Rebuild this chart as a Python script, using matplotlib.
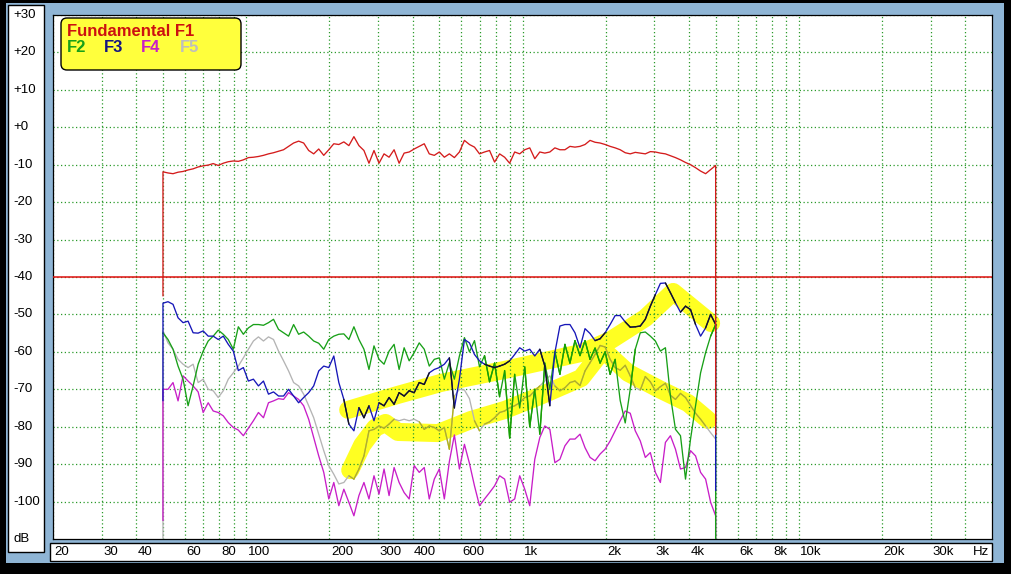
import numpy as np
import matplotlib
matplotlib.use("Agg")
import matplotlib.pyplot as plt
from matplotlib.patches import Rectangle, FancyBboxPatch
from matplotlib.collections import LineCollection
from matplotlib import transforms as mtrans
from matplotlib.ticker import NullLocator
from matplotlib.colors import to_rgb

# ---------------- data ----------------
freqs = np.geomspace(50, 5000, 111)

f1_db = [-11.9, -12.2, -12.4, -12.0, -11.8, -11.4, -11.1, -10.6, -10.3, -10.1,
         -9.7, -10.2, -9.6, -9.2, -9.0, -9.1, -8.7, -8.1, -8.0, -7.8,
         -7.5, -7.1, -6.8, -6.4, -6.0, -5.1, -4.2, -3.7, -4.2, -6.2,
         -7.1, -5.8, -7.5, -6.0, -4.4, -4.6, -3.9, -4.9, -2.5, -4.9,
         -6.2, -9.6, -6.2, -9.6, -7.1, -8.0, -6.0, -9.6, -6.9, -6.6,
         -5.8, -5.1, -4.4, -7.1, -7.5, -6.6, -8.0, -7.1, -8.1, -6.6,
         -3.5, -4.6, -5.3, -7.1, -6.6, -6.2, -9.3, -7.1, -8.0, -9.6,
         -6.6, -7.1, -6.0, -5.5, -8.4, -6.6, -6.9, -6.6, -5.5, -6.0,
         -6.0, -5.1, -5.3, -5.1, -4.6, -3.5, -4.0, -4.2, -4.6, -5.1,
         -5.5, -6.0, -6.8, -7.1, -6.7, -6.9, -7.1, -6.5, -6.6, -6.9,
         -7.1, -7.6, -8.1, -8.7, -9.4, -10.0, -10.8, -11.7, -12.4, -11.3,
         -10.2]

f2_db = [-54.9, -56.7, -59.3, -63.8, -67.3, -74.4, -69.1, -63.3, -59.8, -57.1,
         -55.8, -54.2, -55.3, -56.7, -59.3, -53.3, -55.3, -53.6, -52.7, -52.7,
         -52.9, -52.2, -51.3, -54.0, -54.9, -55.8, -52.7, -55.3, -54.7, -55.8,
         -57.1, -57.7, -59.3, -56.7, -55.8, -55.3, -55.2, -56.7, -53.3, -56.7,
         -59.3, -64.7, -58.4, -62.0, -63.3, -59.8, -58.0, -64.7, -58.9, -62.4,
         -60.2, -57.6, -59.3, -63.8, -62.0, -61.6, -67.3, -62.9, -67.3, -61.1,
         -56.2, -60.0, -57.0, -64.0, -61.0, -68.0, -63.0, -72.0, -65.0, -83.0,
         -66.0, -75.0, -64.0, -80.0, -70.0, -82.0, -63.0, -70.0, -60.0, -66.0,
         -58.0, -63.0, -57.0, -61.0, -57.0, -62.0, -59.0, -63.0, -60.0, -66.0,
         -62.0, -73.0, -79.0, -70.0, -59.3, -54.9, -54.7, -55.8, -57.1, -59.8,
         -58.9, -71.8, -80.7, -82.4, -94.0, -83.3, -74.4, -65.6, -60.2, -55.8,
         -52.7]

f3_db = [-47.0, -46.6, -47.3, -50.9, -52.2, -51.8, -54.9, -55.0, -54.4, -55.8,
         -55.8, -56.7, -55.8, -58.0, -59.8, -65.0, -64.2, -67.8, -67.3, -69.1,
         -67.8, -71.3, -70.7, -71.8, -71.8, -70.0, -71.8, -73.6, -72.2, -70.9,
         -69.1, -65.1, -63.8, -64.2, -61.1, -68.2, -72.7, -79.3, -81.1, -74.9,
         -77.6, -74.4, -78.4, -73.6, -74.4, -72.2, -74.0, -70.9, -71.8, -70.4,
         -70.9, -68.2, -68.7, -65.6, -64.7, -64.2, -63.3, -61.6, -75.0, -67.3,
         -56.7, -57.6, -60.7, -62.4, -63.3, -63.8, -64.2, -63.8, -63.3, -62.4,
         -60.7, -58.9, -59.8, -59.3, -61.1, -59.3, -63.8, -74.4, -60.2, -53.1,
         -52.7, -52.7, -54.9, -58.9, -53.8, -55.1, -57.0, -56.5, -54.9, -52.7,
         -50.3, -50.3, -52.0, -53.4, -53.3, -53.1, -51.3, -47.8, -44.7, -41.7,
         -41.6, -44.2, -46.9, -49.4, -47.8, -48.7, -52.7, -55.8, -53.6, -50.0,
         -52.7]

f4_db = [-70.0, -70.0, -68.2, -73.1, -66.4, -67.8, -69.1, -70.7, -76.2, -73.6,
         -75.8, -76.2, -77.1, -78.9, -80.2, -80.9, -82.4, -80.4, -78.4, -76.2,
         -77.6, -73.6, -73.1, -72.5, -72.7, -70.9, -71.8, -72.7, -74.4, -78.0,
         -82.9, -87.8, -92.2, -99.3, -94.9, -101.1, -96.7, -100.2, -103.8, -98.4,
         -94.9, -99.3, -93.1, -98.0, -91.3, -98.4, -90.9, -94.9, -97.6, -99.3,
         -90.4, -92.2, -90.9, -99.3, -94.0, -91.3, -99.3, -89.3, -82.2, -91.3,
         -84.7, -89.8, -95.8, -101.1, -99.3, -97.6, -95.8, -93.1, -94.0, -100.2,
         -99.3, -93.1, -96.7, -101.1, -88.7, -82.9, -79.8, -80.7, -89.6, -88.7,
         -85.1, -83.3, -83.3, -82.0, -85.6, -88.2, -89.1, -87.3, -86.0, -83.8,
         -81.1, -78.4, -75.8, -76.4, -81.1, -83.8, -88.2, -86.9, -92.2, -94.9,
         -84.2, -82.4, -86.0, -91.3, -90.9, -86.4, -87.8, -92.2, -94.0, -100.2,
         -103.8]

f5_db = [-54.4, -57.6, -59.3, -62.0, -63.3, -64.2, -63.3, -68.2, -67.3, -70.0,
         -70.4, -72.2, -70.4, -67.3, -65.6, -63.8, -61.6, -59.3, -57.1, -56.0,
         -57.1, -56.0, -56.7, -59.8, -62.4, -65.1, -68.2, -69.1, -71.3, -74.4,
         -77.6, -82.0, -86.4, -90.4, -92.7, -95.3, -94.9, -93.1, -94.0, -91.3,
         -87.8, -81.1, -80.7, -79.8, -80.4, -79.3, -78.0, -78.4, -78.0, -78.4,
         -78.0, -78.7, -80.7, -79.8, -80.2, -81.1, -80.2, -86.0, -71.8, -70.0,
         -70.2, -72.5, -78.4, -81.1, -79.3, -78.7, -77.6, -76.2, -75.8, -74.9,
         -74.4, -73.6, -72.2, -71.8, -70.4, -69.1, -67.8, -66.4, -69.1, -70.4,
         -69.6, -68.2, -67.8, -69.0, -65.1, -62.9, -60.7, -58.3, -58.7, -62.0,
         -64.2, -64.9, -63.6, -66.4, -69.6, -70.2, -66.6, -68.0, -70.4, -69.3,
         -68.4, -71.6, -72.7, -71.1, -72.2, -74.3, -76.4, -78.0, -79.8, -81.6,
         -83.3]

series_names = ["F1", "F2", "F3", "F4", "F5"]
start_db = [-45, -55, -73, -105, -110]
end_db = [-82, -110, -97, -110, -110]

threshold_db = -40

# hand-drawn highlight strokes
band_upper_f = [234, 354, 507, 865, 1630, 2092, 2778, 3508, 4814]
band_upper_db = [-75.5, -71.5, -68.3, -64.8, -60.3, -56.8, -51.0, -44.0, -52.3]
band_lower_f = [238, 263, 293, 319, 354, 495, 651, 865, 1138, 1630, 1958, 2410, 3173, 3975, 4695]
band_lower_db = [-91.6, -84.9, -80.3, -79.0, -81.4, -81.7, -78.2, -75.5, -72.0, -67.0, -59.5,
                 -65.6, -70.2, -73.7, -78.2]

grid_freqs = [20, 30, 40, 50, 60, 70, 80, 90,
              100, 200, 300, 400, 500, 600, 700, 800, 900,
              1000, 2000, 3000, 4000, 5000, 6000, 7000, 8000, 9000,
              10000, 20000, 30000, 40000]
x_label_freqs = [20, 30, 40, 60, 80, 100, 200, 300, 400, 600,
                 1000, 2000, 3000, 4000, 6000, 8000, 10000, 20000, 30000]
x_labels = ["20", "30", "40", "60", "80", "100", "200", "300", "400", "600",
            "1k", "2k", "3k", "4k", "6k", "8k", "10k", "20k", "30k"]
y_label_vals = [30, 20, 10, 0, -10, -20, -30, -40, -50, -60, -70, -80, -90, -100]
y_labels = ["+30", "+20", "+10", "+0", "-10", "-20", "-30", "-40", "-50",
            "-60", "-70", "-80", "-90", "-100"]

# ---------------- style ----------------
W, H = 1012, 574
RED = "#d41c1c"
GREEN = "#18a018"
BLUE = "#1616b8"
MAG = "#c81ec8"
GRAY = "#b4b4b4"
GRIDC = "#2a9a2a"
BG = "#8fb5d5"
HILITE = "#ffff22"
FONT = "Liberation Sans"

fig = plt.figure(figsize=(W / 100, H / 100), dpi=100)
fig.patch.set_facecolor("black")


def fr(x0, y0, x1, y1):
    return (x0 / W, 1 - y1 / H, (x1 - x0) / W, (y1 - y0) / H)


def add_rect(x0, y0, x1, y1, fc, ec="none", lw=0):
    l, b, w, h = fr(x0, y0, x1, y1)
    fig.add_artist(Rectangle((l, b), w, h, transform=fig.transFigure,
                             facecolor=fc, edgecolor=ec, linewidth=lw, zorder=0))


add_rect(6, 3, 1004, 563, BG)
add_rect(8, 5, 44, 552, "white", "black", 1)
add_rect(50, 543, 992, 561, "white", "black", 1)

ax = fig.add_axes(fr(53, 15, 992, 539))
ax.set_xscale("log")
ax.set_xlim(20, 50000)
ax.set_ylim(-110, 30)
ax.set_xticks(grid_freqs)
ax.xaxis.set_minor_locator(NullLocator())
ax.set_yticks(list(range(-100, 31, 10)))
ax.tick_params(length=0, labelbottom=False, labelleft=False)
ax.set_axisbelow("line")
ax.grid(True, color=GRIDC, linestyle=(0, (1, 2)), linewidth=0.9)
for s in ax.spines.values():
    s.set_color("black")
    s.set_linewidth(0.9)

# highlight strokes (under the curves)
for bf, bd in [(band_upper_f, band_upper_db), (band_lower_f, band_lower_db)]:
    ax.plot(bf, bd, color=HILITE, lw=13, solid_capstyle="round",
            solid_joinstyle="round", zorder=1)

ax.axhline(threshold_db, color="#e01010", lw=1.1, zorder=2.6, snap=True)

series_db = [f1_db, f2_db, f3_db, f4_db, f5_db]
colors = [RED, GREEN, BLUE, MAG, GRAY]
zords = [3.4, 3.1, 3.3, 3.0, 2.9]
hl_rgb = np.array(to_rgb(HILITE))
half_w = 8.5


def band_dense(bf, bd):
    bp = ax.transData.transform(np.column_stack([bf, bd]))
    parts = []
    for a, b in zip(bp[:-1], bp[1:]):
        n = int(np.hypot(*(b - a))) + 2
        t = np.linspace(0, 1, n)[:, None]
        parts.append(a + (b - a) * t)
    return np.vstack(parts)


dense_bands = [band_dense(band_upper_f, band_upper_db),
               band_dense(band_lower_f, band_lower_db)]

for name, vals, c, z, s0, s1 in zip(series_names, series_db, colors, zords, start_db, end_db):
    fx = np.concatenate([[freqs[0]], freqs, [freqs[-1]]])
    fy = np.concatenate([[s0], np.asarray(vals, float), [s1]])
    ax.plot(fx, fy, color=c, lw=0.95, zorder=z, clip_on=True)
    if name == "F1":
        continue
    pts = ax.transData.transform(np.column_stack([fx, fy]))
    mids = (pts[:-1] + pts[1:]) / 2
    inside = np.zeros(len(mids), bool)
    for dense in dense_bands:
        d = np.min(np.hypot(mids[:, None, 0] - dense[None, :, 0],
                            mids[:, None, 1] - dense[None, :, 1]), axis=1)
        inside |= d < half_w
    if inside.any():
        P = np.column_stack([fx, fy])
        segs = np.stack([P[:-1], P[1:]], axis=1)[inside]
        mc = tuple(np.array(to_rgb(c)) * hl_rgb)
        ax.add_collection(LineCollection(segs, colors=[mc], linewidths=0.95,
                                         zorder=z + 0.01, capstyle="round"))

# tick labels
bx = mtrans.blended_transform_factory(ax.transData, ax.transAxes)
bx = mtrans.offset_copy(bx, fig=fig, x=1.5, y=0, units="dots")
yb = (539 - 552) / 524
for f, lab in zip(x_label_freqs, x_labels):
    ax.text(f, yb, lab, transform=bx, ha="left", va="center", fontsize=9.5,
            family=FONT, color="black", clip_on=False)
ax.text(1 - 3 / 939, yb, "Hz", transform=ax.transAxes, ha="right", va="center",
        fontsize=9.5, family=FONT, color="black", clip_on=False)

by = mtrans.blended_transform_factory(ax.transAxes, ax.transData)
xl = (13 - 53) / 939
for v, lab in zip(y_label_vals, y_labels):
    ax.text(xl, v, lab, transform=by, ha="left", va="center", fontsize=9.5,
            family=FONT, color="black", clip_on=False)
ax.text(xl, -110, "dB", transform=by, ha="left", va="center", fontsize=9.5,
        family=FONT, color="black", clip_on=False)

# legend box
leg = FancyBboxPatch((61, H - 70), 180, 52, boxstyle="round,pad=0,rounding_size=6",
                     transform=mtrans.IdentityTransform(), facecolor="#ffff3c",
                     edgecolor="black", linewidth=1, zorder=5)
fig.add_artist(leg)
fig.text(67 / W, 1 - 31 / H, "Fundamental F1", color="#cc1010", fontsize=12,
         fontweight="bold", family=FONT, va="center", ha="left", zorder=6)
for lab, xx, cc in [("F2", 67, "#18a018"), ("F3", 104, "#141482"),
                    ("F4", 141, "#c81ec8"), ("F5", 180, "#bebebe")]:
    fig.text(xx / W, 1 - 48 / H, lab, color=cc, fontsize=12, fontweight="bold",
             family=FONT, va="center", ha="left", zorder=6)

fig.savefig("out.png", dpi=100, facecolor=fig.get_facecolor())
